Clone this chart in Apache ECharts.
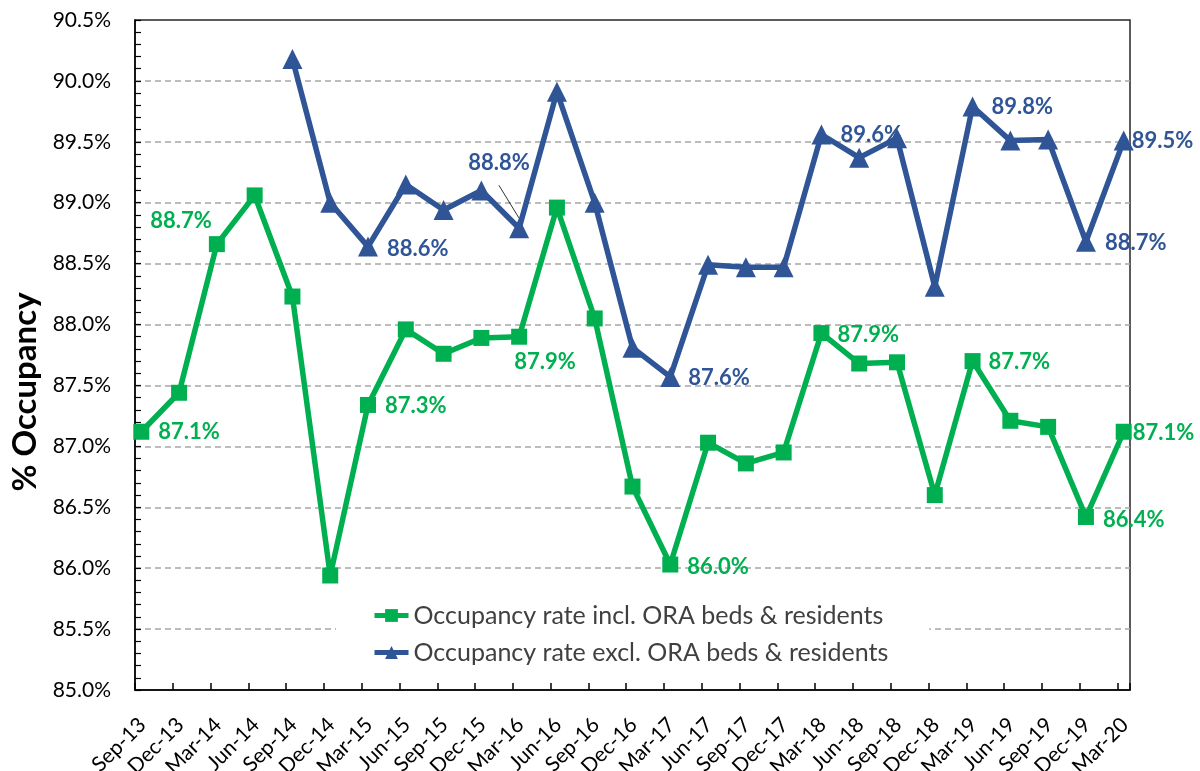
<!DOCTYPE html>
<html><head><meta charset="utf-8">
<script src="https://cdn.jsdelivr.net/npm/echarts@6/dist/echarts.min.js"></script>
<style>html,body{margin:0;padding:0;background:#fff}#c{width:1200px;height:771px}</style>
</head><body><div id="c"></div>
<script>
// ---- data ----
const categories = ['Sep-13','Dec-13','Mar-14','Jun-14','Sep-14','Dec-14','Mar-15','Jun-15','Sep-15','Dec-15','Mar-16','Jun-16','Sep-16','Dec-16','Mar-17','Jun-17','Sep-17','Dec-17','Mar-18','Jun-18','Sep-18','Dec-18','Mar-19','Jun-19','Sep-19','Dec-19','Mar-20'];
const inclORA = [87.12,87.44,88.66,89.06,88.23,85.94,87.34,87.96,87.76,87.89,87.90,88.96,88.05,86.67,86.03,87.03,86.86,86.95,87.93,87.68,87.69,86.60,87.70,87.21,87.16,86.42,87.12];
const exclORA = [null,null,null,null,90.18,89.00,88.64,89.15,88.94,89.10,88.79,89.91,89.00,87.81,87.57,88.49,88.47,88.47,89.56,89.37,89.53,88.31,89.79,89.51,89.52,88.68,89.51];
const seriesNames = ['Occupancy rate incl. ORA beds & residents','Occupancy rate excl. ORA beds & residents'];
const labeledIncl = [0,2,6,10,14,18,22,25,26];
const labeledExcl = [6,10,14,18,22,25,26];

// ---- styles / label placement (px offsets from point) ----
const GREEN = '#00b050', BLUE = '#2f5597';
const FONT = 'Lato';
const inclLabelPos = {0:[17,0],2:['L',-5,-23],6:[17,1],10:[-5,25],14:[17,2],18:[16,2],22:[16,1],25:[17,3],26:[9,1]};
const exclLabelPos = {6:[19,2],10:[-51,-65],14:[18,1],18:[19,0],22:[19,0],25:[19,1],26:[8,0]};

// months since Sep-2013, points at mid-month
function xOf(i){ return 3*i + 0.5; }

function build(values, labeled, posMap, color, half){
  const out = [];
  values.forEach((v,i)=>{
    if (v === null) return;
    const item = {value:[xOf(i), v]};
    if (labeled.indexOf(i) >= 0){
      const p = posMap[i];
      let lab;
      if (p[0] === 'L') lab = {show:true, position:'left', distance:0, offset:[p[1]+half, p[2]]};
      else lab = {show:true, position:'right', distance:0, offset:[p[0]-half, p[1]]};
      lab.formatter = v.toFixed(1) + '%';
      lab.color = color; lab.fontFamily = FONT; lab.fontWeight = 'bold'; lab.fontSize = 22;
      item.label = lab;
      if (i === 10 && color === BLUE){
        item.labelLine = {show:true, lineStyle:{color:'#000', width:0.8}};
      }
    }
    out.push(item);
  });
  return out;
}

const chart = echarts.init(document.getElementById('c'), null, {renderer:'canvas'});
chart.setOption({
  animation:false,
  backgroundColor:'#fff',
  grid:{left:135, right:70, top:20, bottom:81, containLabel:false, outerBoundsMode:'none',
        show:true, borderColor:'#262626', borderWidth:1.5, backgroundColor:'transparent'},
  xAxis:{
    type:'value', min:0, max:79, interval:3,
    axisLine:{show:true, onZero:false, lineStyle:{color:'#000', width:1.5}},
    axisTick:{show:true, inside:true, length:7, lineStyle:{color:'#000', width:1.5}},
    splitLine:{show:false},
    axisLabel:{rotate:45, margin:24, verticalAlign:'top', fontFamily:FONT, fontSize:21, color:'#000',
      formatter:function(v){ return (v % 3 === 0 && categories[v/3]) ? categories[v/3] : ''; }}
  },
  yAxis:{
    type:'value', min:85, max:90.5, interval:0.5,
    name:'% Occupancy', nameLocation:'middle', nameGap:90,
    nameTextStyle:{fontFamily:FONT, fontWeight:'bold', fontSize:33, color:'#000', padding:[0,74,0,0]},
    axisLine:{show:true, lineStyle:{color:'#000', width:1.5}},
    axisTick:{show:true, inside:true, length:6, lineStyle:{color:'#000', width:1.2}},
    minorTick:{show:true, splitNumber:5, length:6, lineStyle:{color:'#000', width:1.2}},
    splitLine:{show:true, showMinLine:false, showMaxLine:false, lineStyle:{color:'#a6a6a6', type:[6,4], width:1.5}},
    axisLabel:{margin:24, fontFamily:FONT, fontSize:21, color:'#000',
      formatter:function(v){ return v.toFixed(1) + '%'; }}
  },
  legend:{
    orient:'vertical', left:336, top:597, padding:[6,41,8,36], backgroundColor:'#fff',
    itemWidth:34, itemHeight:16, itemGap:12,
    lineStyle:{width:5},
    textStyle:{fontFamily:FONT, fontSize:25, color:'#404040'},
    data:seriesNames
  },
  series:[
    {name:seriesNames[0], type:'line', data:build(inclORA, labeledIncl, inclLabelPos, GREEN, 8),
     symbol:'rect', symbolSize:16, lineStyle:{color:GREEN, width:5.5}, itemStyle:{color:GREEN},
     label:{show:false}},
    {name:seriesNames[1], type:'line', data:build(exclORA, labeledExcl, exclLabelPos, BLUE, 10),
     symbol:'triangle', symbolSize:20, lineStyle:{color:BLUE, width:5.5}, itemStyle:{color:BLUE},
     label:{show:false}}
  ]
});
</script></body></html>
